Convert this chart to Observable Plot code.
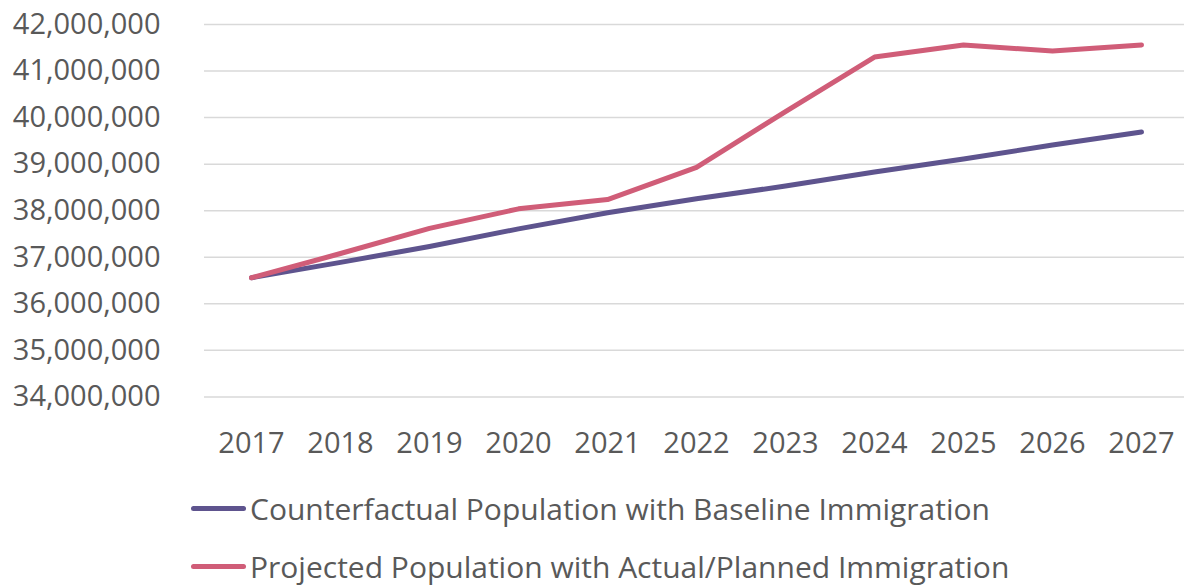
<!DOCTYPE html>
<html>
<head>
<meta charset="utf-8">
<script src="https://cdn.jsdelivr.net/npm/d3@7"></script>
<script src="https://cdn.jsdelivr.net/npm/@observablehq/plot@0.6"></script>
<style>
  html, body { margin: 0; padding: 0; background: #fff; }
  #chart { width: 1184px; }
  .legend { font-family: "Open Sans", sans-serif; font-size: 30px; color: #595959; padding-top: 9px; }
  .row { position: relative; height: 58px; display: flex; align-items: center; }
  .sw { position: absolute; left: 191px; width: 55px; height: 5px; border-radius: 3px; }
  .lbl { position: absolute; left: 250px; white-space: nowrap; }
</style>
</head>
<body>
<div id="chart"></div>
<script>
const years = ["2017","2018","2019","2020","2021","2022","2023","2024","2025","2026","2027"];
const counterfactual = [36560000, 36890000, 37230000, 37610000, 37955000, 38255000, 38530000, 38830000, 39110000, 39410000, 39690000];
const projected = [36560000, 37080000, 37620000, 38040000, 38240000, 38930000, 40130000, 41300000, 41560000, 41430000, 41560000];
const yTicks = [34000000, 35000000, 36000000, 37000000, 38000000, 39000000, 40000000, 41000000, 42000000];
const seriesNames = ["Counterfactual Population with Baseline Immigration", "Projected Population with Actual/Planned Immigration"];
const seriesColors = ["#5e548e", "#d05d78"];

const rows = [];
years.forEach((yr, i) => {
  rows.push({year: yr, value: counterfactual[i], series: seriesNames[0]});
  rows.push({year: yr, value: projected[i], series: seriesNames[1]});
});

const plot = Plot.plot({
  width: 1184,
  height: 470,
  marginLeft: 204,
  marginRight: 0,
  marginTop: 24,
  marginBottom: 73.6,
  style: { fontFamily: "'Open Sans', sans-serif", fontSize: "29px", color: "#595959", background: "#fff" },
  x: { type: "point", domain: years, range: [248.3, 1144.3], padding: 0 },
  y: { domain: [34000000, 42000000] },
  color: { domain: seriesNames, range: seriesColors },
  marks: [
    Plot.ruleY(yTicks, { stroke: "#d9d9d9", strokeWidth: 1.5 }),
    Plot.axisY({ ticks: yTicks, tickFormat: d3.format(","), tickSize: 0, tickPadding: 44, label: null, fontSize: 29, fill: "#595959" }),
    Plot.axisX({ tickSize: 0, tickPadding: 36, label: null, fontSize: 29, fill: "#595959" }),
    Plot.line(rows, { x: "year", y: "value", stroke: "series", strokeWidth: 5, strokeLinecap: "round", strokeLinejoin: "round" })
  ]
});
document.getElementById("chart").appendChild(plot);

const legend = document.createElement("div");
legend.className = "legend";
seriesNames.forEach((name, i) => {
  const row = document.createElement("div");
  row.className = "row";
  const sw = document.createElement("div");
  sw.className = "sw";
  sw.style.background = seriesColors[i];
  const lbl = document.createElement("span");
  lbl.className = "lbl";
  lbl.textContent = name;
  row.appendChild(sw);
  row.appendChild(lbl);
  legend.appendChild(row);
});
document.getElementById("chart").appendChild(legend);
</script>
</body>
</html>
